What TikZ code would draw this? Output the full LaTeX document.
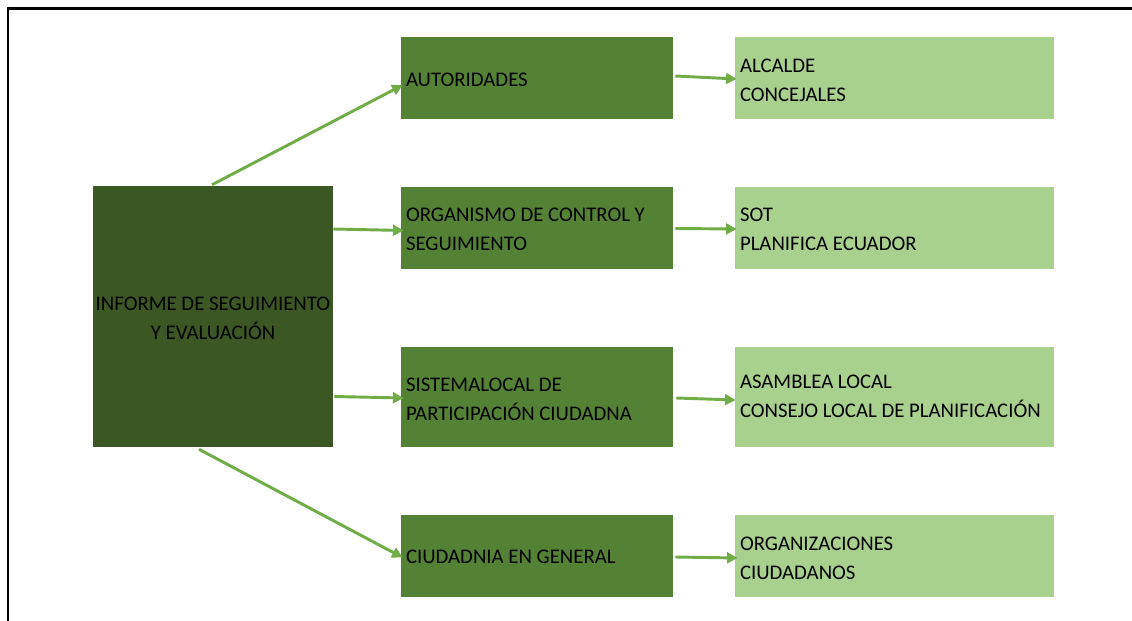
\documentclass[tikz,border=0pt]{standalone}
\usepackage{fontspec}
\setmainfont{Carlito}
\usetikzlibrary{calc,arrows.meta}
\definecolor{darkgreen}{HTML}{3A5724}
\definecolor{midgreen}{HTML}{548235}
\definecolor{lightgreen}{HTML}{A9D18E}
\definecolor{arrowgreen}{HTML}{70AD47}
% #1 width of the text area, #2 vertical shift, #3 lines
\newcommand\bxt[3]{\makebox[#1][l]{\raisebox{#2}[\height][\depth]{\begin{tabular}{@{}l@{}}#3\end{tabular}}}}
\newcommand\bxc[2]{\raisebox{#1}[\height][\depth]{\begin{tabular}{@{}c@{}}#2\end{tabular}}}
\tikzset{
  boxtext/.style={font=\fontsize{15.6pt}{21.5pt}\selectfont, text=black},
  midbox/.style={boxtext, rectangle, fill=midgreen, inner xsep=3.75pt, inner ysep=0pt,
    minimum width=204pt, minimum height=61.5pt},
  rightbox/.style={boxtext, rectangle, fill=lightgreen, inner xsep=3.75pt, inner ysep=0pt,
    minimum width=239.25pt, minimum height=61.5pt},
  tallbox/.style={minimum height=75pt},
  mainbox/.style={boxtext, rectangle, fill=darkgreen, inner sep=0pt,
    minimum width=180pt, minimum height=195.75pt},
  arr/.style={draw=arrowgreen, line width=2.2pt, -{Triangle[length=8pt,width=8pt]}},
  frameline/.style={draw=black, line width=1.6pt}
}
\begin{document}
\begin{tikzpicture}[x=0.75pt,y=-0.75pt]
\useasboundingbox (0,0) rectangle (1132,621);
\fill[white] (0,0) rectangle (1132,621);
\draw[frameline] (8,621) -- (8,8.5) -- (1132,8.5);

\node[mainbox] (main) at (213,316.5) {\bxc{-2.25pt}{INFORME DE SEGUIMIENTO\\Y EVALUACIÓN}};

\node[midbox] (m1) at (537,78) {\bxt{196.5pt}{-2.25pt}{AUTORIDADES}};
\node[midbox] (m2) at (537,227.5) {\bxt{196.5pt}{-2.25pt}{ORGANISMO DE CONTROL Y\\SEGUIMIENTO}};
\node[midbox,tallbox] (m3) at (537,397) {\bxt{196.5pt}{-2.25pt}{SISTEMALOCAL DE\\PARTICIPACIÓN CIUDADNA}};
\node[midbox] (m4) at (537,556) {\bxt{196.5pt}{-1pt}{CIUDADNIA EN GENERAL}};

\node[rightbox] (r1) at (894.5,78) {\bxt{231.75pt}{-2.25pt}{ALCALDE\\CONCEJALES}};
\node[rightbox] (r2) at (894.5,227.5) {\bxt{231.75pt}{-2.25pt}{SOT\\PLANIFICA ECUADOR}};
\node[rightbox,tallbox] (r3) at (894.5,397) {\bxt{231.75pt}{0pt}{ASAMBLEA LOCAL\\CONSEJO LOCAL DE PLANIFICACIÓN}};
\node[rightbox] (r4) at (894.5,556) {\bxt{231.75pt}{-2.25pt}{ORGANIZACIONES\\CIUDADANOS}};

\draw[arr] ($(main.north)+(-1,-1)$) -- ($(m1.west)+(2,7)$);
\draw[arr] ($(main.east |- m2.west)+(0,1.5)$) -- ($(m2.west)+(3,3)$);
\draw[arr] ($(main.east |- m3.west)+(1,-0.5)$) -- ($(m3.west)+(3,1)$);
\draw[arr] ($(main.south)+(-14,2)$) -- ($(m4.west)+(2,1.5)$);

\draw[arr] ($(m1.east)+(2,-2)$) -- ($(r1.west)+(2,1)$);
\draw[arr] ($(m2.east)+(2,1)$) -- ($(r2.west)+(2,1.5)$);
\draw[arr] ($(m3.east)+(3,1)$) -- ($(r3.west)+(1,3)$);
\draw[arr] ($(m4.east)+(2,1)$) -- ($(r4.west)+(3,2)$);
\end{tikzpicture}
\end{document}
